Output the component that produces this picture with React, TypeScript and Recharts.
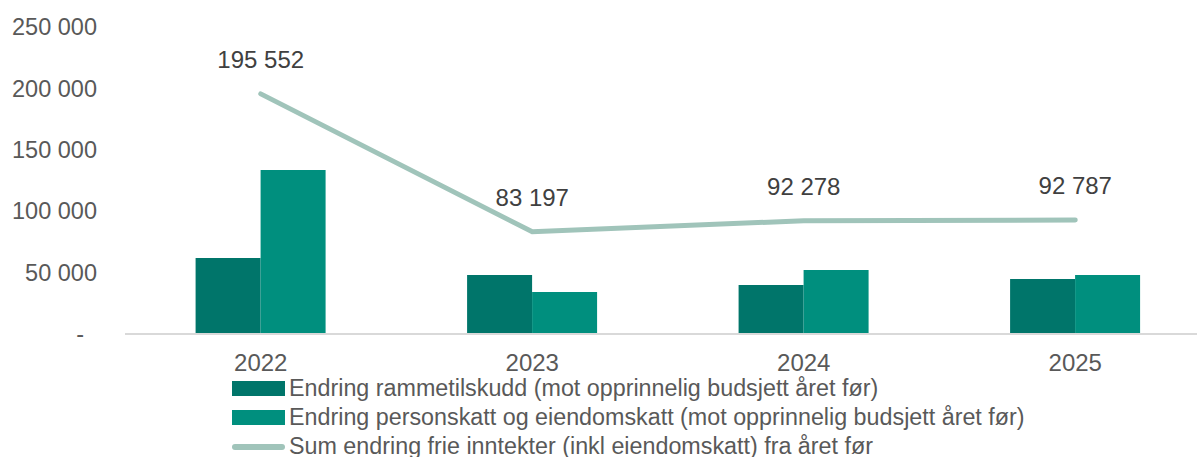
import React from 'react'
import { ComposedChart, Bar, Line, XAxis, YAxis, Legend, LabelList } from 'recharts'

const years = ['2022', '2023', '2024', '2025']
const rammetilskudd = [61900, 48000, 39900, 44800]
const personskatt = [133500, 34200, 52100, 48000]
const sumFrie = [195552, 83197, 92278, 92787]
const yTicks = [0, 50000, 100000, 150000, 200000, 250000]

const legendLabels = [
  'Endring rammetilskudd (mot opprinnelig budsjett året før)',
  'Endring personskatt og eiendomskatt (mot opprinnelig budsjett året før)',
  'Sum endring frie inntekter (inkl eiendomskatt) fra året før',
]

const DARK = '#00756A'
const TEAL = '#008F7E'
const LINE = '#A0C4BA'
const FONT = '"Liberation Sans", Arial, sans-serif'

const data = years.map((year, i) => ({
  year,
  ramme: rammetilskudd[i],
  person: personskatt[i],
  sum: sumFrie[i],
}))

const fmt = (v: number) => (v === 0 ? '-' : String(Math.round(v)).replace(/\B(?=(\d{3})+(?!\d))/g, ' '))

const YTick = (props: any) => {
  const { x, y, payload } = props
  const isZero = payload.value === 0
  return (
    <text
      x={isZero ? x - 13 : x}
      y={y}
      dy="0.35em"
      textAnchor="end"
      fill="#595959"
      fontSize={23.5}
      fontFamily={FONT}
    >
      {fmt(payload.value)}
    </text>
  )
}

const renderLegend = () => (
  <div style={{ fontFamily: FONT, fontSize: 23.3, color: '#595959' }}>
    {legendLabels.map((label, i) => (
      <div key={label} style={{ display: 'flex', alignItems: 'center', height: 29, whiteSpace: 'nowrap' }}>
        {i < 2 ? (
          <span style={{ display: 'inline-block', width: 53, height: 15, background: i === 0 ? DARK : TEAL, marginRight: 4 }} />
        ) : (
          <span style={{ display: 'inline-block', width: 53, height: 6, borderRadius: 3, background: LINE, marginRight: 4 }} />
        )}
        <span>{label}</span>
      </div>
    ))}
  </div>
)

export default function App() {
  return (
    <div style={{ position: 'fixed', left: 0, top: 0, width: 1197, height: 457, overflow: 'hidden', background: '#fff' }}>
      <ComposedChart
        width={1211}
        height={457}
        data={data}
        margin={{ top: 27, right: 0, bottom: 0, left: 0 }}
        barCategoryGap="26%"
        barGap={0}
      >
        <XAxis
          dataKey="year"
          height={123}
          tickLine={false}
          tickSize={0}
          tickMargin={20}
          axisLine={{ stroke: '#D9D9D9', strokeWidth: 2 }}
          tick={{ fill: '#595959', fontSize: 24, fontFamily: FONT }}
        />
        <YAxis
          width={125}
          domain={[0, 250000]}
          ticks={yTicks}
          axisLine={false}
          tickLine={false}
          tickSize={0}
          tickMargin={28}
          tick={<YTick />}
        />
        <Legend
          content={renderLegend}
          layout="horizontal"
          verticalAlign="middle"
          align="center"
          wrapperStyle={{ left: 232, top: 374, width: 960, height: 'auto' }}
        />
        <Bar dataKey="ramme" fill={DARK} isAnimationActive={false} />
        <Bar dataKey="person" fill={TEAL} isAnimationActive={false} />
        <Line
          dataKey="sum"
          stroke={LINE}
          strokeWidth={5}
          strokeLinecap="round"
          dot={false}
          activeDot={false}
          type="linear"
          isAnimationActive={false}
        >
          <LabelList
            dataKey="sum"
            position="top"
            offset={26}
            formatter={(v: any) => fmt(Number(v))}
            fill="#404040"
            fontSize={24}
            fontFamily={FONT}
          />
        </Line>
      </ComposedChart>
    </div>
  )
}
